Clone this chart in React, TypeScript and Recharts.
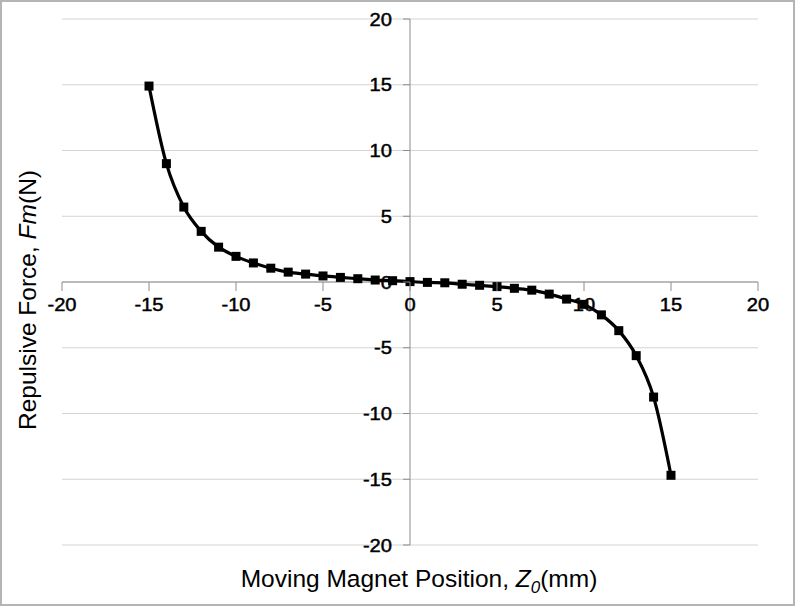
import React from 'react';
import {
    LineChart,
    Line,
    XAxis,
    YAxis,
    CartesianGrid,
    ReferenceLine
} from 'recharts';

// magnet position (mm) and measured repulsive force (N)
const positions = [
    -15, -14, -13, -12, -11, -10, -9, -8, -7, -6, -5, -4, -3, -2, -1, 0,
    1, 2, 3, 4, 5, 6, 7, 8, 9, 10, 11, 12, 13, 14, 15
];
const force = [
    14.9, 9.0, 5.7, 3.85, 2.65, 1.95, 1.45, 1.05, 0.75, 0.6, 0.46, 0.35, 0.25, 0.15, 0.1, 0.03,
    -0.03, -0.06, -0.17, -0.25, -0.35, -0.48, -0.62, -0.92, -1.3, -1.7, -2.5, -3.7, -5.6, -8.75, -14.7
];
const xTicks = [-20, -15, -10, -5, 0, 5, 10, 15, 20];
const yTicks = [-20, -15, -10, -5, 0, 5, 10, 15, 20];

const data = positions.map((z, i) => ({ z, fm: force[i] }));

const W = 795;
const H = 606;
const M = { top: 19, right: 37, bottom: 60, left: 61 };
const AX = 1; // axis band size, axes themselves are drawn through the origin
const X_MIN = -20, X_MAX = 20, Y_MIN = -20, Y_MAX = 20;
const plotL = M.left + AX;
const plotW = W - plotL - M.right;
const plotH = H - M.top - M.bottom - AX;
// axes cross at the origin, excel style
const zeroX = plotL + (plotW * (0 - X_MIN)) / (X_MAX - X_MIN);
const zeroY = M.top + (plotH * (Y_MAX - 0)) / (Y_MAX - Y_MIN);

const FONT = '"Liberation Sans", Arial, sans-serif';
const AXIS = '#8c8c8c';
const TICK_FS = 17.5;
const STRETCH = 1.15; // tick digits in the original are a bit wide

const TickText = ({ x, y, anchor, children }: any) => (
    <text
        transform={`translate(${x},${y}) scale(${STRETCH},1)`}
        textAnchor={anchor}
        fontFamily={FONT}
        fontSize={TICK_FS}
        fill="#000"
        stroke="#000"
        strokeWidth={0.45}
    >
        {children}
    </text>
);

const XTick = (props: any) => {
    const { x, payload } = props;
    return (
        <g>
            <line x1={x} x2={x} y1={zeroY} y2={zeroY + 9} stroke={AXIS} />
            <TickText x={x} y={zeroY + 29} anchor="middle">{payload.value}</TickText>
        </g>
    );
};

const YTick = (props: any) => {
    const { y, payload } = props;
    return (
        <g>
            <line x1={zeroX - 7} x2={zeroX} y1={y} y2={y} stroke={AXIS} />
            <TickText x={zeroX - 18} y={y + 6.5} anchor="end">{payload.value}</TickText>
        </g>
    );
};

const XTitle = () => (
    <text x={419} y={587} textAnchor="middle" fontFamily={FONT} fontSize={24.5} fill="#000">
        Moving Magnet Position, <tspan fontStyle="italic">Z</tspan>
        <tspan fontStyle="italic" fontSize={17} dy={6}>0</tspan>
        <tspan dy={-6}>(mm)</tspan>
    </text>
);

const YTitle = () => (
    <text
        transform="rotate(-90)"
        x={-300}
        y={36}
        textAnchor="middle"
        fontFamily={FONT}
        fontSize={24.5}
        fill="#000"
    >
        Repulsive Force, <tspan fontStyle="italic">Fm</tspan>(N)
    </text>
);

const SquareDot = (props: any) => {
    const { cx, cy, index } = props;
    return <rect key={index} x={cx - 4.5} y={cy - 4.5} width={9} height={9} fill="#000" />;
};

export default function App() {
    return (
        <div
            style={{
                position: 'absolute',
                left: 0,
                top: 0,
                width: W,
                height: H,
                background: '#fff',
                boxShadow: 'inset 0 0 0 2px #b4b4b4'
            }}
        >
            <LineChart width={W} height={H} data={data} margin={M}>
                <CartesianGrid vertical={false} stroke="#d4d4d4" />
                <XAxis
                    dataKey="z"
                    type="number"
                    domain={[X_MIN, X_MAX]}
                    ticks={xTicks}
                    height={AX}
                    axisLine={false}
                    tickLine={false}
                    tick={<XTick />}
                    interval={0}
                    label={{ content: () => <XTitle /> }}
                />
                <YAxis
                    type="number"
                    domain={[Y_MIN, Y_MAX]}
                    ticks={yTicks}
                    width={AX}
                    axisLine={false}
                    tickLine={false}
                    tick={<YTick />}
                    interval={0}
                    label={{ content: () => <YTitle /> }}
                />
                <ReferenceLine y={0} stroke={AXIS} />
                <ReferenceLine x={0} stroke={AXIS} />
                <Line
                    type="monotone"
                    dataKey="fm"
                    stroke="#000"
                    strokeWidth={3.2}
                    dot={<SquareDot />}
                    isAnimationActive={false}
                />
            </LineChart>
        </div>
    );
}
